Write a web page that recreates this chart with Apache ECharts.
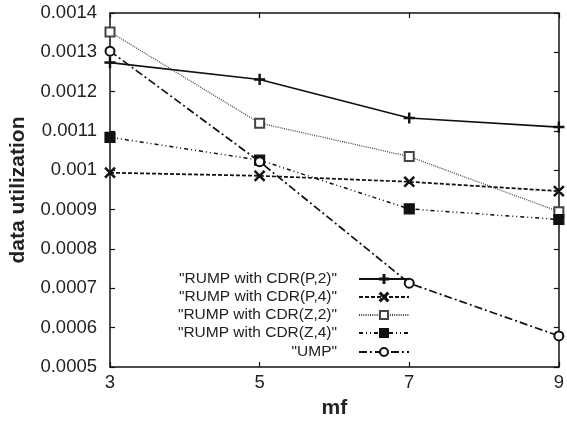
<!DOCTYPE html>
<html>
<head>
<meta charset="utf-8">
<script src="https://cdn.jsdelivr.net/npm/echarts@6/dist/echarts.min.js"></script>
<style>
  html, body { margin: 0; padding: 0; background: #fff; }
  #el { width: 567px; height: 425px; }
</style>
</head>
<body>
<div id="el"></div>
<script>
// data
const mf = ['3', '5', '7', '9'];
const cdrP2 = [0.001274, 0.001231, 0.001133, 0.001110];
const cdrP4 = [0.000994, 0.000986, 0.000971, 0.000947];
const cdrZ2 = [0.001352, 0.001120, 0.001035, 0.000895];
const cdrZ4 = [0.001084, 0.001026, 0.000902, 0.000875];
const ump = [0.001303, 0.001022, 0.000713, 0.000579];
const names = ['"RUMP with CDR(P,2)"', '"RUMP with CDR(P,4)"', '"RUMP with CDR(Z,2)"', '"RUMP with CDR(Z,4)"', '"UMP"'];

const FONT = '"Liberation Sans", Arial, sans-serif';
const INK = '#111';

// plus and cross markers as filled paths
const plusPath = 'path://M0,4.4 H10 V5.6 H0 Z M4.4,0 H5.6 V10 H4.4 Z';
const crossPath = 'path://M0.6,1.4 L1.4,0.6 L9.4,8.6 L8.6,9.4 Z M8.6,0.6 L9.4,1.4 L1.4,9.4 L0.6,8.6 Z';

const mk = (name, data, symbol, size, dash, width, color) => ({
  name: name,
  type: 'line',
  data: data,
  symbol: symbol,
  symbolSize: size,
  showAllSymbol: true,
  animation: false,
  lineStyle: { color: color, width: width, type: dash },
  itemStyle: { color: color, borderColor: color, borderWidth: 1.2 },
  z: 3
});

// one legend per row so icons line up on the right
const rowTop = [270, 288, 306, 324, 343];
const legends = names.map((n, i) => ({
  data: [n],
  orient: 'horizontal',
  align: 'right',
  right: 157,
  top: rowTop[i],
  padding: 0,
  itemWidth: 50,
  itemHeight: 10,
  textStyle: { fontFamily: FONT, fontSize: 15.5, color: '#222', lineHeight: 18, padding: [0, 17, 0, 0] },
  selectedMode: false
}));

const chart = echarts.init(document.getElementById('el'));
chart.setOption({
  backgroundColor: '#fff',
  textStyle: { fontFamily: FONT },
  grid: { left: 110, right: 1, top: 13, bottom: 58 },
  legend: legends,
  xAxis: [
    {
      type: 'category', data: mf, boundaryGap: false,
      name: 'mf', nameLocation: 'middle', nameGap: 31,
      nameTextStyle: { fontFamily: FONT, fontSize: 21, fontWeight: 'bold', color: '#222' },
      axisLine: { lineStyle: { color: INK, width: 1.5 } },
      axisTick: { inside: true, length: 5, lineStyle: { color: INK, width: 1.2 } },
      axisLabel: { fontFamily: FONT, fontSize: 18.5, color: '#222', margin: 6 },
      splitLine: { show: false }
    },
    {
      type: 'category', data: mf, boundaryGap: false, position: 'top',
      axisLine: { lineStyle: { color: INK, width: 1.5 } },
      axisTick: { inside: true, length: 5, lineStyle: { color: INK, width: 1.2 } },
      axisLabel: { show: false },
      splitLine: { show: false }
    }
  ],
  yAxis: [
    {
      type: 'value', min: 0.0005, max: 0.0014, interval: 0.0001,
      name: 'data utilization', nameLocation: 'middle', nameGap: 81,
      nameTextStyle: { fontFamily: FONT, fontSize: 21, fontWeight: 'bold', color: '#222' },
      axisLine: { show: true, lineStyle: { color: INK, width: 1.5 } },
      axisTick: { show: true, inside: true, length: 5, lineStyle: { color: INK, width: 1.2 } },
      axisLabel: { fontFamily: FONT, fontSize: 18.5, color: '#222', margin: 13,
        formatter: v => String(+v.toFixed(4)) },
      splitLine: { show: false }
    },
    {
      type: 'value', min: 0.0005, max: 0.0014, interval: 0.0001, position: 'right',
      axisLine: { show: true, lineStyle: { color: INK, width: 1.5 } },
      axisTick: { show: true, inside: true, length: 5, lineStyle: { color: INK, width: 1.2 } },
      axisLabel: { show: false },
      splitLine: { show: false }
    }
  ],
  series: [
    mk(names[0], cdrP2, plusPath, 10, 'solid', 1.7, INK),
    mk(names[1], cdrP4, crossPath, 10, [4, 2], 1.7, INK),
    mk(names[2], cdrZ2, 'emptyRect', 9, [1, 1.2], 1.3, '#444'),
    mk(names[3], cdrZ4, 'rect', 10, [4, 3, 1, 3, 1, 3], 1.5, INK),
    mk(names[4], ump, 'emptyCircle', 9, [8, 3, 2, 3], 1.7, INK)
  ]
});
</script>
</body>
</html>
